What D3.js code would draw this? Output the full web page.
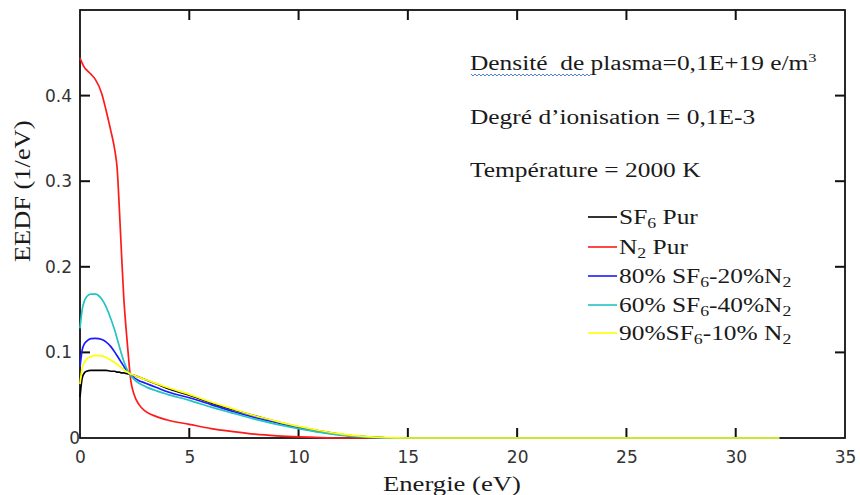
<!DOCTYPE html>
<html><head><meta charset="utf-8">
<script src="https://cdn.jsdelivr.net/npm/d3@7"></script>
<style>body{margin:0;background:#fff}svg{display:block}</style>
</head><body>
<svg id="c" width="860" height="495"></svg>
<script>
const energy = [0, 0.1, 0.2, 0.3, 0.5, 0.7, 1.0, 1.2, 1.4, 1.6, 1.7, 1.8, 1.9, 2.0, 2.1, 2.2, 2.3, 2.5, 2.7, 3.0, 3.5, 4, 5, 6, 7, 8, 9, 10, 11, 12, 13, 14, 15, 20, 25, 30, 32];
const sf6Pur = [0.048, 0.070, 0.076, 0.078, 0.079, 0.079, 0.079, 0.079, 0.078, 0.078, 0.077, 0.077, 0.076, 0.076, 0.0755, 0.075, 0.0745, 0.073, 0.071, 0.068, 0.063, 0.058, 0.050, 0.041, 0.033, 0.026, 0.019, 0.013, 0.008, 0.004, 0.0015, 0.0003, 0, 0, 0, 0, 0];
const n2Pur = [0.444, 0.438, 0.433, 0.430, 0.425, 0.419, 0.402, 0.382, 0.360, 0.335, 0.315, 0.268, 0.215, 0.165, 0.130, 0.100, 0.072, 0.049, 0.039, 0.031, 0.025, 0.021, 0.016, 0.011, 0.0075, 0.0045, 0.0025, 0.0012, 0.0004, 0, 0, 0, 0, 0, 0, 0, 0];
const sf6_80 = [0.083, 0.103, 0.110, 0.113, 0.116, 0.1165, 0.115, 0.112, 0.107, 0.100, 0.096, 0.092, 0.088, 0.084, 0.080, 0.077, 0.074, 0.070, 0.067, 0.064, 0.059, 0.054, 0.047, 0.039, 0.031, 0.024, 0.018, 0.012, 0.007, 0.0035, 0.0012, 0.0002, 0, 0, 0, 0, 0];
const sf6_60 = [0.128, 0.150, 0.160, 0.165, 0.168, 0.168, 0.162, 0.153, 0.140, 0.125, 0.116, 0.107, 0.098, 0.090, 0.083, 0.078, 0.074, 0.068, 0.064, 0.060, 0.055, 0.051, 0.044, 0.036, 0.029, 0.022, 0.016, 0.011, 0.0065, 0.003, 0.001, 0.0002, 0, 0, 0, 0, 0];
const sf6_90 = [0.063, 0.082, 0.088, 0.092, 0.095, 0.0965, 0.096, 0.094, 0.091, 0.088, 0.086, 0.084, 0.082, 0.080, 0.078, 0.0765, 0.075, 0.073, 0.071, 0.068, 0.0635, 0.059, 0.051, 0.042, 0.034, 0.026, 0.0195, 0.0135, 0.0085, 0.0045, 0.0018, 0.0004, 0, 0, 0, 0, 0];
const xTicks = [0, 5, 10, 15, 20, 25, 30, 35];
const yTicks = [0, 0.1, 0.2, 0.3, 0.4];
const seriesNames = [
  [{t:"SF"},{t:"6",sub:true},{t:" Pur"}],
  [{t:"N"},{t:"2",sub:true},{t:" Pur"}],
  [{t:"80% SF"},{t:"6",sub:true},{t:"-20%N"},{t:"2",sub:true}],
  [{t:"60% SF"},{t:"6",sub:true},{t:"-40%N"},{t:"2",sub:true}],
  [{t:"90%SF"},{t:"6",sub:true},{t:"-10% N"},{t:"2",sub:true}]
];
const seriesColors = ["#000000", "#ff1a1a", "#1a1aff", "#22c4c4", "#ffff00"];
const seriesValues = [sf6Pur, n2Pur, sf6_80, sf6_60, sf6_90];

const svg = d3.select("#c");
const L = 80, R = 845, T = 10, B = 438;
const x = d3.scaleLinear().domain([0, 35]).range([L, R]);
const y = d3.scaleLinear().domain([0, 0.5]).range([B, T]);
const SX = 1.27;
const AX = "#111111";

// frame
svg.append("rect").attr("x", L).attr("y", T).attr("width", R - L).attr("height", B - T)
  .attr("fill", "none").attr("stroke", AX).attr("stroke-width", 1.8);

// inward tick marks on all four sides
const innerX = xTicks.filter(d => d > 0 && d < 35);
const innerY = yTicks.filter(d => d > 0);
const tickG = svg.append("g");
innerX.forEach(d => {
  tickG.append("rect").attr("x", x(d) - 1).attr("y", B - 10).attr("width", 2).attr("height", 10).attr("fill", AX);
  tickG.append("rect").attr("x", x(d) - 1).attr("y", T).attr("width", 2).attr("height", 10).attr("fill", AX);
});
innerY.forEach(d => {
  tickG.append("rect").attr("x", L).attr("y", y(d) - 1).attr("width", 10).attr("height", 2).attr("fill", AX);
  tickG.append("rect").attr("x", R - 10).attr("y", y(d) - 1).attr("width", 10).attr("height", 2).attr("fill", AX);
});

// tick labels via d3 axes (no lines)
const tickFont = "'DejaVu Sans', sans-serif";
const gx = svg.append("g").attr("transform", `translate(0,${B})`)
  .call(d3.axisBottom(x).tickValues(xTicks).tickSize(0).tickPadding(13).tickFormat(d3.format("d")));
const gy = svg.append("g").attr("transform", `translate(${L},0)`)
  .call(d3.axisLeft(y).tickValues(yTicks).tickSize(0).tickPadding(8).tickFormat(d => d === 0 ? "0" : d3.format(".1f")(d)));
[gx, gy].forEach(g => {
  g.select(".domain").remove();
  g.selectAll(".tick line").remove();
  g.selectAll(".tick text").attr("fill", "#333").style("font-family", tickFont).style("font-size", "17px");
});
gy.selectAll(".tick").filter(d => d === 0).select("text").attr("x", 0);

// curves (drawn over the frame, as in the reference)
const line = d3.line().x(d => x(d[0])).y(d => y(d[1])).curve(d3.curveMonotoneX);
seriesValues.forEach((vals, i) => {
  svg.append("path")
    .attr("d", line(energy.map((e, k) => [e, vals[k]])))
    .attr("fill", "none").attr("stroke", seriesColors[i]).attr("stroke-width", 1.7);
});

const serif = "'Liberation Serif', 'Times New Roman', serif";
function stxt(xp, yp, size) {
  return svg.append("text").attr("transform", `translate(${xp},${yp}) scale(${SX},1)`)
    .attr("xml:space", "preserve").style("white-space", "pre")
    .style("font-family", serif).style("font-size", size + "px").attr("fill", "#1a1a1a");
}
// axis titles
stxt(383, 491, 21).text("Energie (eV)");
svg.append("text").attr("transform", "translate(30,262) rotate(-90) scale(1.1,1)")
  .style("font-family", serif).style("font-size", "24px")
  .attr("fill", "#1a1a1a").text("EEDF (1/eV)");

// annotations
const a1 = stxt(470, 70, 20);
a1.append("tspan").text("Densité  de plasma=0,1E+19 e/m");
a1.append("tspan").attr("dy", -8).style("font-size", "13px").text("3");
stxt(470, 124, 20).text("Degré d’ionisation = 0,1E-3");
stxt(470, 177, 20).text("Température = 2000 K");
// spell-check squiggle
const sq = [];
for (let xx = 471; xx <= 592; xx += 2) sq.push([xx, 74 + ((xx - 471) / 2 % 2 === 0 ? 0 : 2)]);
svg.append("path").attr("d", d3.line()(sq)).attr("fill", "none").attr("stroke", "#4f86dc").attr("stroke-width", 1);

// legend
const legY = [217, 247, 276, 305, 333];
seriesNames.forEach((parts, i) => {
  svg.append("line").attr("x1", 588).attr("x2", 617).attr("y1", legY[i]).attr("y2", legY[i])
    .attr("stroke", seriesColors[i]).attr("stroke-width", 1.6);
  const t = stxt(619, legY[i] + 7, 20);
  let shift = 0;
  parts.forEach(p => {
    if (p.sub) { t.append("tspan").attr("dy", 4 - shift).style("font-size", "14px").text(p.t); shift = 4; }
    else { t.append("tspan").attr("dy", -shift).text(p.t); shift = 0; }
  });
});
</script>
</body></html>
